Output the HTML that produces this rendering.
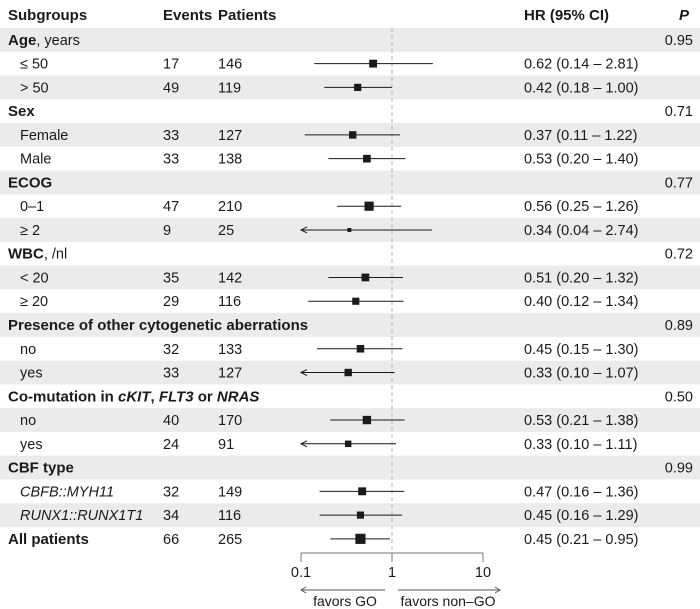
<!DOCTYPE html>
<html><head><meta charset="utf-8">
<style>
html,body{margin:0;padding:0;background:#fff;}
svg{display:block;font-family:"Liberation Sans",Arial,sans-serif;}
</style></head>
<body>
<svg id="chart" width="700" height="609" viewBox="0 0 700 609">
<g id="bands"></g>
<g id="header" font-size="15" font-weight="bold" fill="#1a1a1a">
  <text x="8" y="20">Subgroups</text>
  <text x="163" y="20">Events</text>
  <text x="218" y="20">Patients</text>
  <text x="524" y="20">HR (95% CI)</text>
  <text x="689" y="20" text-anchor="end" font-style="italic">P</text>
</g>
<g id="rows"></g>
<g id="axis"></g>
</svg>
<script>
const labels = ["<b>Age</b>, years","≤ 50","> 50","<b>Sex</b>","Female","Male","<b>ECOG</b>","0–1","≥ 2","<b>WBC</b>, /nl","< 20","≥ 20","<b>Presence of other cytogenetic aberrations</b>","no","yes","<b>Co-mutation in <i>cKIT</i>, <i>FLT3</i> or <i>NRAS</i></b>","no","yes","<b>CBF type</b>","<i>CBFB::MYH11</i>","<i>RUNX1::RUNX1T1</i>","<b>All patients</b>"];
const events = [null,17,49,null,33,33,null,47,9,null,35,29,null,32,33,null,40,24,null,32,34,66];
const patients = [null,146,119,null,127,138,null,210,25,null,142,116,null,133,127,null,170,91,null,149,116,265];
const hr = [null,0.62,0.42,null,0.37,0.53,null,0.56,0.34,null,0.51,0.40,null,0.45,0.33,null,0.53,0.33,null,0.47,0.45,0.45];
const lower = [null,0.14,0.18,null,0.11,0.20,null,0.25,0.04,null,0.20,0.12,null,0.15,0.10,null,0.21,0.10,null,0.16,0.16,0.21];
const upper = [null,2.81,1.00,null,1.22,1.40,null,1.26,2.74,null,1.32,1.34,null,1.30,1.07,null,1.38,1.11,null,1.36,1.29,0.95];
const pvals = ["0.95",null,null,"0.71",null,null,"0.77",null,null,"0.72",null,null,"0.89",null,null,"0.50",null,null,"0.99",null,null,null];
const ticks = [0.1,1,10];

const NS="http://www.w3.org/2000/svg";
const x0=301, dec=91;
function xs(v){return x0+(Math.log10(v)+1)*dec;}
const top0=28, rh=23.76;
function yc(i){return top0+i*rh+rh/2;}
function mk(tag,attrs,parent){const e=document.createElementNS(NS,tag);for(const k in attrs)e.setAttribute(k,attrs[k]);parent.appendChild(e);return e;}
function fmt(v){return v.toFixed(2);}
const bands=document.getElementById('bands');
const rows=document.getElementById('rows');
labels.forEach((lab,i)=>{
  if(i%2===0){
    const r=mk('rect',{x:0,y:top0+i*rh,width:700,height:rh,fill:'#ebebeb'},bands);
    
    
  }
});
const ref=mk('line',{x1:xs(1),x2:xs(1),y1:28,y2:553,stroke:'#b0b0b0','stroke-width':1,'stroke-dasharray':'4,3'},rows);


labels.forEach((lab,i)=>{
  const y=yc(i)+5;
  const g=mk('g',{'font-size':'14.5',fill:'#1a1a1a'},rows);
  
  
  const isHead = events[i]===null;
  const t=mk('text',{x:isHead||i===21?8:20,y:y},g);
  t.innerHTML=lab.replace(/<b>/g,'<tspan font-weight="bold" font-size="15">').replace(/<\/b>/g,'</tspan>').replace(/<i>/g,'<tspan font-style="italic">').replace(/<\/i>/g,'</tspan>');
  
  
  if(pvals[i]){const p=mk('text',{x:693,y:y,'text-anchor':'end'},g);p.textContent=pvals[i];
    
    }
  if(isHead) return;
  const e=mk('text',{x:163,y:y},g);e.textContent=events[i];
  
  
  const pt=mk('text',{x:218,y:y},g);pt.textContent=patients[i];
  
  
  const h=mk('text',{x:524,y:y},g);h.textContent=fmt(hr[i])+' ('+fmt(lower[i])+' – '+fmt(upper[i])+')';
  
  
  const cy=yc(i);
  const arrow=lower[i]<=0.1;
  const lx=arrow?xs(0.1):xs(lower[i]);
  const ci=mk('line',{x1:lx,x2:xs(upper[i]),y1:cy,y2:cy,stroke:'#1a1a1a','stroke-width':1},g);
  
  
  if(arrow){
    const a=mk('path',{d:`M${lx+6},${cy-3} L${lx},${cy} L${lx+6},${cy+3}`,fill:'none',stroke:'#1a1a1a','stroke-width':1},g);
    
    
  }
  const s=Math.sqrt(patients[i])*0.55+1.2;
  const b=mk('rect',{x:xs(hr[i])-s/2,y:cy-s/2,width:s,height:s,fill:'#1a1a1a'},g);
  
  
});
const ax=document.getElementById('axis');
const al=mk('line',{x1:xs(ticks[0]),x2:xs(ticks[ticks.length-1]),y1:553,y2:553,stroke:'#777','stroke-width':1},ax);


ticks.forEach(t=>{
  const tk=mk('line',{x1:xs(t),x2:xs(t),y1:553,y2:562,stroke:'#777','stroke-width':1},ax);
  
  
  const tl=mk('text',{x:xs(t),y:577,'text-anchor':'middle','font-size':'14.5',fill:'#1a1a1a'},ax);
  tl.textContent=String(t);
  
  
});
const fl=mk('path',{d:'M385,590 L301,590 M306,587 L301,590 L306,593',fill:'none',stroke:'#555','stroke-width':1},ax);


const fr=mk('path',{d:'M398,590 L500,590 M495,587 L500,590 L495,593',fill:'none',stroke:'#555','stroke-width':1},ax);


const t1=mk('text',{x:345,y:606,'text-anchor':'middle','font-size':'14',fill:'#1a1a1a'},ax);t1.textContent='favors GO';


const t2=mk('text',{x:448,y:606,'text-anchor':'middle','font-size':'14',fill:'#1a1a1a'},ax);t2.textContent='favors non–GO';


</script>
</body></html>
